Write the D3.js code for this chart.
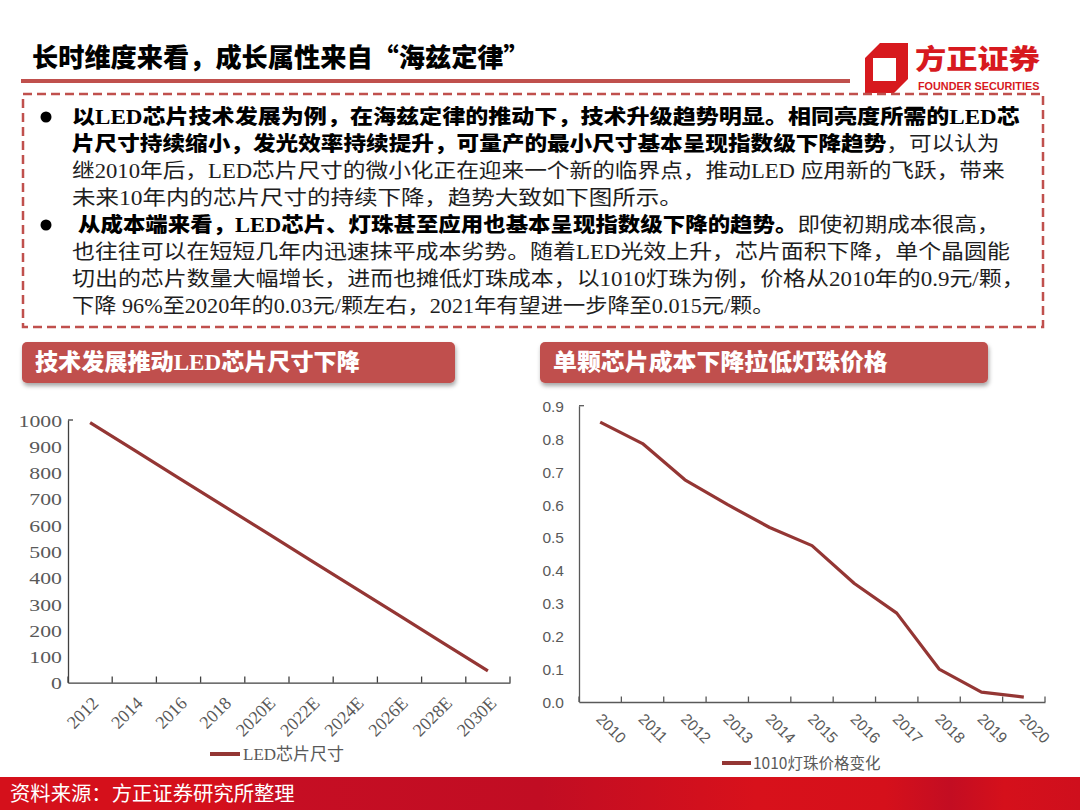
<!DOCTYPE html>
<html>
<head>
<meta charset="utf-8">
<script src="https://cdn.jsdelivr.net/npm/d3@7"></script>
<style>
  html, body { margin: 0; padding: 0; background: #fff; }
  svg { display: block; }
</style>
</head>
<body>
<svg id="chart" width="1080" height="810"></svg>
<script>
// ---------------- data ----------------
const leftCategories = ["2012","2014","2016","2018","2020E","2022E","2024E","2026E","2028E","2030E"];
const ledChipSize = [990, 885, 780, 675, 570, 465, 360, 255, 150, 45];
const leftTickValues = [0,100,200,300,400,500,600,700,800,900,1000];
const leftLegend = "LED芯片尺寸";

const rightCategories = ["2010","2011","2012","2013","2014","2015","2016","2017","2018","2019","2020"];
const beadPrice = [0.85, 0.785, 0.675, 0.6, 0.53, 0.475, 0.36, 0.27, 0.1, 0.03, 0.015];
const rightTickValues = [0,0.1,0.2,0.3,0.4,0.5,0.6,0.7,0.8,0.9];
const rightLegend = "1010灯珠价格变化";

const pageTitle = "长时维度来看，成长属性来自“海兹定律”";
const leftHeader = "技术发展推动LED芯片尺寸下降";
const rightHeader = "单颗芯片成本下降拉低灯珠价格";
const sourceText = "资料来源：方正证券研究所整理";
const paragraphLines = [
  [[true,"以LED芯片技术发展为例，在海兹定律的推动下，技术升级趋势明显。相同亮度所需的LED芯"]],
  [[true,"片尺寸持续缩小，发光效率持续提升，可量产的最小尺寸基本呈现指数级下降趋势"],[false,"，可以认为"]],
  [[false,"继2010年后，LED芯片尺寸的微小化正在迎来一个新的临界点，推动LED 应用新的飞跃，带来"]],
  [[false,"未来10年内的芯片尺寸的持续下降，趋势大致如下图所示。"]],
  [[true,"从成本端来看，LED芯片、灯珠甚至应用也基本呈现指数级下降的趋势。"],[false,"即使初期成本很高，"]],
  [[false,"也往往可以在短短几年内迅速抹平成本劣势。随着LED光效上升，芯片面积下降，单个晶圆能"]],
  [[false,"切出的芯片数量大幅增长，进而也摊低灯珠成本，以1010灯珠为例，价格从2010年的0.9元/颗，"]],
  [[false,"下降 96%至2020年的0.03元/颗左右，2021年有望进一步降至0.015元/颗。"]]
];
const paragraphLineEnds = [1020, 1000, 1005, 683, 1000, 1010, 1025, 775];
const paragraphLineStarts = [72, 72, 72, 72, 78, 72, 72, 72];
const bulletLines = [0, 4];

// ---------------- setup ----------------
const svg = d3.select("#chart");
const RED = "#c0504d";
const LINE = "#943634";
const CJK_SERIF = "'Liberation Serif','Noto Sans CJK SC',serif";
const CJK_SANS = "'Noto Sans CJK SC','Liberation Sans',sans-serif";

const defs = svg.append("defs");
const sh = defs.append("filter").attr("id","shadow").attr("x","-5%").attr("y","-20%").attr("width","110%").attr("height","160%");
sh.append("feDropShadow").attr("dx",1).attr("dy",3).attr("stdDeviation",2).attr("flood-color","#000").attr("flood-opacity",0.35);

const grad = defs.append("linearGradient").attr("id","footer").attr("x1","0").attr("x2","1").attr("y1","0").attr("y2","0");
[[0,"#d5101b"],[0.2,"#d5101b"],[0.26,"#c60e23"],[0.5,"#c10d23"],[0.7,"#d8111b"],[0.82,"#d5101b"],[0.88,"#c30d22"],[0.93,"#d5101b"],[1,"#cf0f1d"]]
  .forEach(([o,c]) => grad.append("stop").attr("offset",o).attr("stop-color",c));

svg.append("rect").attr("width",1080).attr("height",810).attr("fill","#fff");

// helper: squeeze/stretch a text horizontally so it spans [x0,x1]
function fitText(g, x0, x1) {
  const t = g.select("text");
  const w = t.node().getBBox().width;
  t.attr("transform", `scale(${(x1 - x0) / w},1)`);
}

// ---------------- title ----------------
const tg = svg.append("g").attr("transform","translate(32,58)");
tg.append("text").attr("dy","0.36em").attr("font-family",CJK_SANS).attr("font-weight",900)
  .attr("font-size",26).attr("fill","#000").text(pageTitle);
fitText(tg, 32, 530);
svg.append("rect").attr("x",21).attr("y",79).attr("width",829).attr("height",4).attr("fill",RED);

// logo
const logo = svg.append("g");
logo.append("path").attr("fill","#d7191e").attr("fill-rule","evenodd")
  .attr("d","M880,43 L908,43 L908,79 L894,93 L865,93 L865,58 Z M873,58 L873,81 L896,81 L896,58 Z");
const lg1 = logo.append("g").attr("transform","translate(915,59)");
lg1.append("text").attr("dy","0.36em").attr("font-family",CJK_SANS).attr("font-weight",900)
  .attr("font-size",27).attr("fill","#d7191e").text("方正证券");
fitText(lg1, 915, 1040);
const lg2 = logo.append("g").attr("transform","translate(918,86)");
lg2.append("text").attr("dy","0.36em").attr("font-family","'Liberation Sans',sans-serif").attr("font-weight","bold")
  .attr("font-size",10).attr("fill","#d7191e").text("FOUNDER SECURITIES");
fitText(lg2, 918, 1040);

// ---------------- paragraph box ----------------
svg.append("rect").attr("x",23).attr("y",94).attr("width",1020).attr("height",233)
  .attr("fill","none").attr("stroke",RED).attr("stroke-width",2.5).attr("stroke-dasharray","9,5");

paragraphLines.forEach((segs, i) => {
  const cy = 117 + i * 27;
  const x0 = paragraphLineStarts[i];
  const g = svg.append("g").attr("transform",`translate(${x0},${cy})`);
  const t = g.append("text").attr("dy","0.36em").attr("font-family",CJK_SERIF).attr("font-size",20);
  segs.forEach(([bold, str]) => {
    t.append("tspan").attr("font-weight", bold ? 900 : 400)
      .attr("fill", bold ? "#000" : "#1e1e1e").text(str);
  });
  fitText(g, x0, paragraphLineEnds[i]);
});
bulletLines.forEach(i => {
  svg.append("circle").attr("cx",46).attr("cy",117 + i * 27).attr("r",5.5).attr("fill","#000");
});

// ---------------- section headers ----------------
function header(x, w, textX, textEnd, label) {
  svg.append("rect").attr("x",x).attr("y",342).attr("width",w).attr("height",41).attr("rx",5)
    .attr("fill",RED).attr("filter","url(#shadow)");
  const g = svg.append("g").attr("transform",`translate(${textX},362)`);
  g.append("text").attr("dy","0.36em").attr("font-family",CJK_SERIF).attr("font-weight",900)
    .attr("font-size",23).attr("fill","#fff").text(label);
  fitText(g, textX, textEnd);
}
header(22, 433, 35, 360, leftHeader);
header(540, 448, 553, 888, rightHeader);

// ---------------- left chart ----------------
const xL = d3.scaleBand().domain(leftCategories).range([68,510]);
const yL = d3.scaleLinear().domain([0,1000]).range([682.7,420]);
const axisColL = "#404040";

const gyL = svg.append("g").attr("transform","translate(68,0)")
  .call(d3.axisLeft(yL).tickValues(leftTickValues).tickSize(0).tickPadding(0).tickFormat(d3.format("d")));
gyL.select(".domain").attr("stroke",axisColL).attr("stroke-width",1.3);
gyL.selectAll(".tick text").attr("x",0).attr("dy","0.36em")
  .attr("transform","translate(-6,0) scale(1.28,1)")
  .attr("font-family","'Liberation Serif',serif").attr("font-size",17).attr("fill","#595959");
svg.append("line").attr("x1",68).attr("x2",73).attr("y1",420).attr("y2",420).attr("stroke",axisColL).attr("stroke-width",1.3);

const gxL = svg.append("g").attr("transform","translate(0,682.7)")
  .call(d3.axisBottom(xL).tickSize(0).tickPadding(0));
gxL.select(".domain").attr("stroke",axisColL).attr("stroke-width",1.3);
gxL.selectAll(".tick text")
  .attr("x",0).attr("y",0).attr("dy","0.36em")
  .attr("text-anchor","end")
  .attr("transform","translate(5,17) rotate(-45)")
  .attr("font-family","'Liberation Serif',serif").attr("font-size",18).attr("fill","#595959");
svg.append("g").selectAll("line").data(leftCategories.map(c => xL(c)).concat([xL.range()[1]]))
  .join("line").attr("x1",d=>d).attr("x2",d=>d).attr("y1",682.7).attr("y2",676.5)
  .attr("stroke",axisColL).attr("stroke-width",1.3);

svg.append("path").datum(ledChipSize)
  .attr("fill","none").attr("stroke",LINE).attr("stroke-width",3.2).attr("stroke-linejoin","round")
  .attr("d", d3.line().x((d,i)=>xL(leftCategories[i]) + xL.bandwidth()/2).y(d=>yL(d)));

svg.append("line").attr("x1",210).attr("x2",240).attr("y1",754).attr("y2",754).attr("stroke",LINE).attr("stroke-width",4);
svg.append("text").attr("x",243).attr("y",754).attr("dy","0.36em").attr("font-family",CJK_SERIF)
  .attr("font-size",17).attr("fill","#595959").text(leftLegend);

// ---------------- right chart ----------------
const xR = d3.scaleBand().domain(rightCategories).range([579,1045]);
const yR = d3.scaleLinear().domain([0,0.9]).range([702,405.7]);
const axisColR = "#595959";

const gyR = svg.append("g").attr("transform","translate(579,0)")
  .call(d3.axisLeft(yR).tickValues(rightTickValues).tickSize(0).tickPadding(15).tickFormat(d3.format(".1f")));
gyR.select(".domain").attr("stroke",axisColR).attr("stroke-width",1.3);
gyR.selectAll(".tick text").attr("dy","0.36em")
  .attr("font-family","'Liberation Sans',sans-serif").attr("font-size",15.5).attr("fill","#595959");
svg.append("line").attr("x1",579).attr("x2",584).attr("y1",405.7).attr("y2",405.7).attr("stroke",axisColR).attr("stroke-width",1.3);

const gxR = svg.append("g").attr("transform","translate(0,702)")
  .call(d3.axisBottom(xR).tickSize(0).tickPadding(0));
gxR.select(".domain").attr("stroke",axisColR).attr("stroke-width",1.3);
gxR.selectAll(".tick text")
  .attr("x",0).attr("y",0).attr("dy","0.36em")
  .attr("text-anchor","start")
  .attr("transform","translate(-1,14) rotate(45)")
  .attr("font-family","'Liberation Sans',sans-serif").attr("font-size",15.5).attr("fill","#595959");
svg.append("g").selectAll("line").data(rightCategories.map(c => xR(c)).concat([xR.range()[1]]))
  .join("line").attr("x1",d=>d).attr("x2",d=>d).attr("y1",702).attr("y2",696.5)
  .attr("stroke",axisColR).attr("stroke-width",1.3);

svg.append("path").datum(beadPrice)
  .attr("fill","none").attr("stroke",LINE).attr("stroke-width",3.2).attr("stroke-linejoin","round")
  .attr("d", d3.line().x((d,i)=>xR(rightCategories[i]) + xR.bandwidth()/2).y(d=>yR(d)));

svg.append("line").attr("x1",722).attr("x2",751).attr("y1",763).attr("y2",763).attr("stroke",LINE).attr("stroke-width",4);
svg.append("text").attr("x",753).attr("y",763).attr("dy","0.36em").attr("font-family",CJK_SANS)
  .attr("font-size",15.5).attr("fill","#595959").text(rightLegend);

// ---------------- footer ----------------
svg.append("rect").attr("x",0).attr("y",777).attr("width",1080).attr("height",33).attr("fill","url(#footer)");
const fg = svg.append("g").attr("transform","translate(10,794)");
fg.append("text").attr("dy","0.36em").attr("font-family",CJK_SANS).attr("font-size",20)
  .attr("fill","#fff").text(sourceText);
fitText(fg, 10, 295);
</script>
</body>
</html>
